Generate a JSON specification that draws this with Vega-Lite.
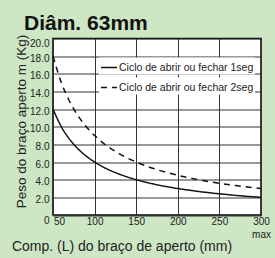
{
  "$schema": "https://vega.github.io/schema/vega-lite/v6.json",
  "width": 208,
  "height": 176.5,
  "autosize": {"type": "none"},
  "padding": {"left": 53, "top": 38.5, "right": 14, "bottom": 43},
  "background": "#cde6c4",
  "title": {"text": "Diâm. 63mm", "anchor": "start", "frame": "group", "dx": -29, "dy": 3, "fontSize": 21, "font": "Liberation Sans", "fontWeight": "bold", "color": "#111", "offset": 3},
  "config": {"view": {"stroke": "#000", "strokeWidth": 1.5, "fill": "white"}, "font": "Liberation Sans"},
  "data": {"values": [
    {"L": 50, "m": 12, "s": "Ciclo de abrir ou fechar 1seg"},
    {"L": 60, "m": 10, "s": "Ciclo de abrir ou fechar 1seg"},
    {"L": 70, "m": 8.57, "s": "Ciclo de abrir ou fechar 1seg"},
    {"L": 80, "m": 7.5, "s": "Ciclo de abrir ou fechar 1seg"},
    {"L": 90, "m": 6.67, "s": "Ciclo de abrir ou fechar 1seg"},
    {"L": 100, "m": 6, "s": "Ciclo de abrir ou fechar 1seg"},
    {"L": 110, "m": 5.45, "s": "Ciclo de abrir ou fechar 1seg"},
    {"L": 120, "m": 5, "s": "Ciclo de abrir ou fechar 1seg"},
    {"L": 130, "m": 4.62, "s": "Ciclo de abrir ou fechar 1seg"},
    {"L": 140, "m": 4.29, "s": "Ciclo de abrir ou fechar 1seg"},
    {"L": 150, "m": 4, "s": "Ciclo de abrir ou fechar 1seg"},
    {"L": 160, "m": 3.75, "s": "Ciclo de abrir ou fechar 1seg"},
    {"L": 170, "m": 3.53, "s": "Ciclo de abrir ou fechar 1seg"},
    {"L": 180, "m": 3.33, "s": "Ciclo de abrir ou fechar 1seg"},
    {"L": 190, "m": 3.16, "s": "Ciclo de abrir ou fechar 1seg"},
    {"L": 200, "m": 3, "s": "Ciclo de abrir ou fechar 1seg"},
    {"L": 210, "m": 2.86, "s": "Ciclo de abrir ou fechar 1seg"},
    {"L": 220, "m": 2.73, "s": "Ciclo de abrir ou fechar 1seg"},
    {"L": 230, "m": 2.61, "s": "Ciclo de abrir ou fechar 1seg"},
    {"L": 240, "m": 2.5, "s": "Ciclo de abrir ou fechar 1seg"},
    {"L": 250, "m": 2.4, "s": "Ciclo de abrir ou fechar 1seg"},
    {"L": 260, "m": 2.31, "s": "Ciclo de abrir ou fechar 1seg"},
    {"L": 270, "m": 2.22, "s": "Ciclo de abrir ou fechar 1seg"},
    {"L": 280, "m": 2.14, "s": "Ciclo de abrir ou fechar 1seg"},
    {"L": 290, "m": 2.07, "s": "Ciclo de abrir ou fechar 1seg"},
    {"L": 300, "m": 2, "s": "Ciclo de abrir ou fechar 1seg"},
    {"L": 50, "m": 18, "s": "Ciclo de abrir ou fechar 2seg"},
    {"L": 60, "m": 15, "s": "Ciclo de abrir ou fechar 2seg"},
    {"L": 70, "m": 12.86, "s": "Ciclo de abrir ou fechar 2seg"},
    {"L": 80, "m": 11.25, "s": "Ciclo de abrir ou fechar 2seg"},
    {"L": 90, "m": 10, "s": "Ciclo de abrir ou fechar 2seg"},
    {"L": 100, "m": 9, "s": "Ciclo de abrir ou fechar 2seg"},
    {"L": 110, "m": 8.18, "s": "Ciclo de abrir ou fechar 2seg"},
    {"L": 120, "m": 7.5, "s": "Ciclo de abrir ou fechar 2seg"},
    {"L": 130, "m": 6.92, "s": "Ciclo de abrir ou fechar 2seg"},
    {"L": 140, "m": 6.43, "s": "Ciclo de abrir ou fechar 2seg"},
    {"L": 150, "m": 6, "s": "Ciclo de abrir ou fechar 2seg"},
    {"L": 160, "m": 5.63, "s": "Ciclo de abrir ou fechar 2seg"},
    {"L": 170, "m": 5.29, "s": "Ciclo de abrir ou fechar 2seg"},
    {"L": 180, "m": 5, "s": "Ciclo de abrir ou fechar 2seg"},
    {"L": 190, "m": 4.74, "s": "Ciclo de abrir ou fechar 2seg"},
    {"L": 200, "m": 4.5, "s": "Ciclo de abrir ou fechar 2seg"},
    {"L": 210, "m": 4.29, "s": "Ciclo de abrir ou fechar 2seg"},
    {"L": 220, "m": 4.09, "s": "Ciclo de abrir ou fechar 2seg"},
    {"L": 230, "m": 3.91, "s": "Ciclo de abrir ou fechar 2seg"},
    {"L": 240, "m": 3.75, "s": "Ciclo de abrir ou fechar 2seg"},
    {"L": 250, "m": 3.6, "s": "Ciclo de abrir ou fechar 2seg"},
    {"L": 260, "m": 3.46, "s": "Ciclo de abrir ou fechar 2seg"},
    {"L": 270, "m": 3.33, "s": "Ciclo de abrir ou fechar 2seg"},
    {"L": 280, "m": 3.21, "s": "Ciclo de abrir ou fechar 2seg"},
    {"L": 290, "m": 3.1, "s": "Ciclo de abrir ou fechar 2seg"},
    {"L": 300, "m": 3, "s": "Ciclo de abrir ou fechar 2seg"}
  ]},
  "encoding": {
    "x": {
      "field": "L", "type": "quantitative",
      "scale": {"domain": [50, 300], "nice": false, "zero": false},
      "axis": {
        "values": [50, 100, 150, 200, 250, 300],
        "title": "Comp. (L) do braço de aperto (mm)",
        "titleX": 68.5, "titleY": 35.5, "titleBaseline": "alphabetic", "titleAlign": "center",
        "titleFontSize": 14, "titleFontWeight": "normal", "titleColor": "#222",
        "labelFontSize": 10, "labelColor": "#222", "labelPadding": 1,
        "tickSize": 0, "domain": false, "grid": true, "gridColor": "#333", "gridOpacity": 1, "gridWidth": 1,
        "labelExpr": "datum.value == 300 ? ['300', 'max'] : datum.label",
        "labelLineHeight": 13, "labelFlush": false, "labelOverlap": false,
        "labelOffset": {"condition": {"test": "datum.value == 50", "value": 6}, "value": 0}
      }
    },
    "y": {
      "field": "m", "type": "quantitative",
      "scale": {"domain": [0, 20], "nice": false},
      "axis": {
        "values": [0, 2, 4, 6, 8, 10, 12, 14, 16, 18, 20],
        "title": "Peso do braço aperto m (Kg)",
        "titleX": -32, "titleY": 82.5, "titleAngle": -90, "titleAlign": "center", "titleBaseline": "middle",
        "titleFontSize": 13.5, "titleFontWeight": "normal", "titleColor": "#222",
        "labelFontSize": 10, "labelColor": "#222", "labelPadding": 4,
        "tickSize": 0, "domain": false, "grid": true, "gridColor": "#333", "gridOpacity": 1, "gridWidth": 1,
        "labelExpr": "datum.value == 0 ? '0' : format(datum.value, '.1f')",
        "labelFlush": false, "labelOverlap": false,
        "labelOffset": {"condition": {"test": "datum.value == 0 || datum.value == 20", "value": 5}, "value": 2}
      }
    }
  },
  "layer": [
    {
      "transform": [{"filter": "datum.s == 'Ciclo de abrir ou fechar 1seg'"}],
      "mark": {"type": "line", "color": "#111", "strokeWidth": 1.5, "interpolate": "monotone"},
      "encoding": {
        "strokeDash": {
          "field": "s", "type": "nominal",
          "scale": {"range": [[1, 0]]},
          "legend": {"title": null, "orient": "none", "legendX": 46, "legendY": 19, "fillColor": "white", "padding": 1,
            "labelFontSize": 10.5, "labelColor": "#222", "symbolStrokeColor": "#111", "symbolStrokeWidth": 1.5,
            "symbolSize": 256, "symbolType": "stroke", "labelOffset": 1, "labelFont": "Liberation Sans"}
        }
      }
    },
    {
      "transform": [{"filter": "datum.s == 'Ciclo de abrir ou fechar 2seg'"}],
      "mark": {"type": "line", "color": "#111", "strokeWidth": 1.5, "interpolate": "monotone"},
      "encoding": {
        "strokeDash": {
          "field": "s", "type": "nominal",
          "scale": {"range": [[6, 5]]},
          "legend": {"title": null, "orient": "none", "legendX": 46, "legendY": 39, "fillColor": "white", "padding": 1,
            "labelFontSize": 10.5, "labelColor": "#222", "symbolStrokeColor": "#111", "symbolStrokeWidth": 1.5,
            "symbolSize": 256, "symbolType": "stroke", "labelOffset": 1, "labelFont": "Liberation Sans"}
        }
      }
    }
  ],
  "resolve": {"scale": {"strokeDash": "independent"}, "legend": {"strokeDash": "independent"}}
}
